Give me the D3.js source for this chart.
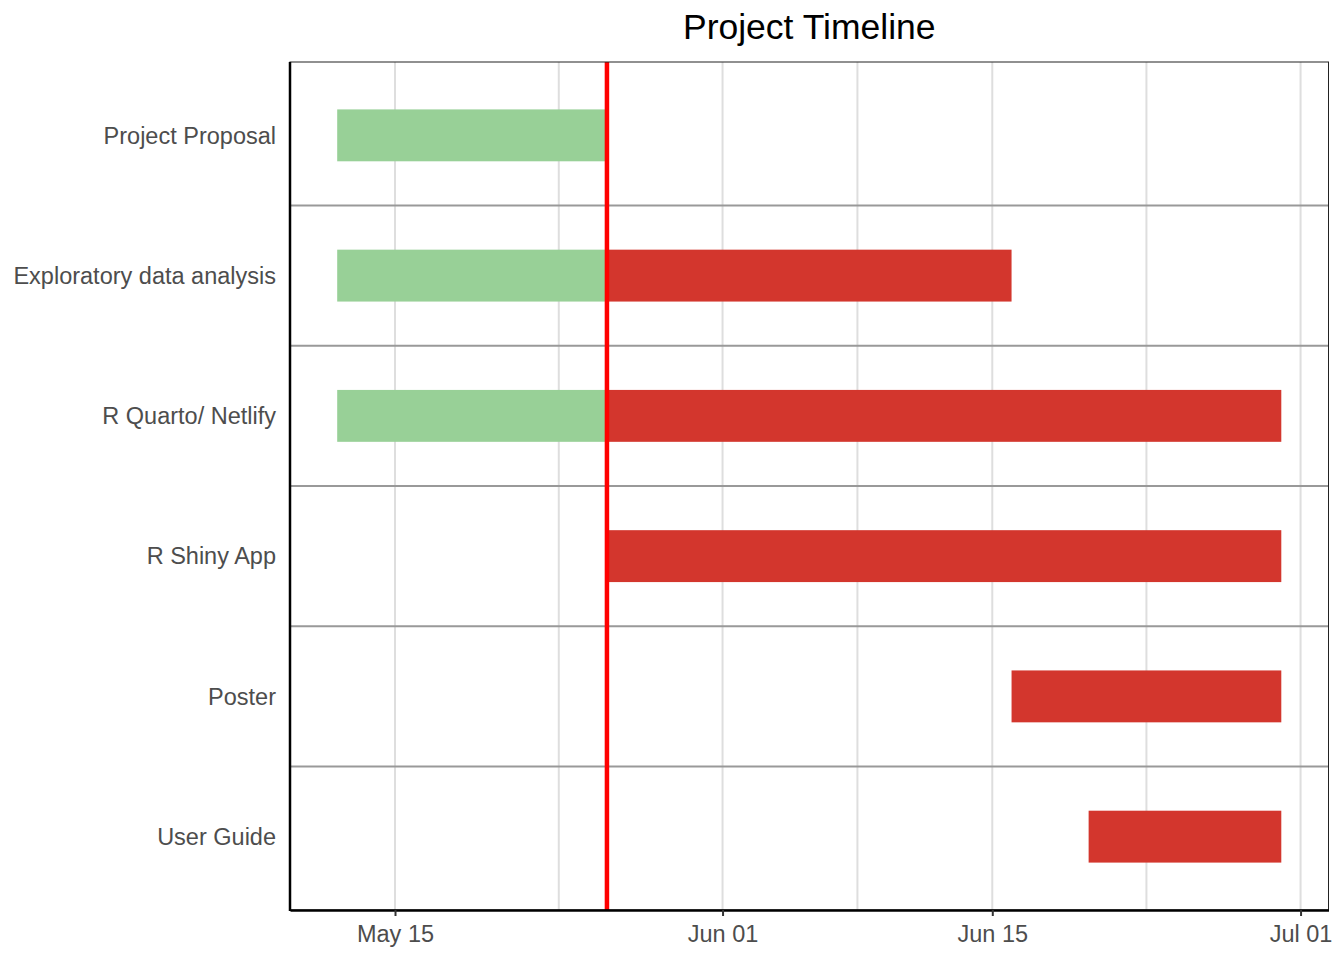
<!DOCTYPE html>
<html>
<head>
<meta charset="utf-8">
<script src="https://cdn.jsdelivr.net/npm/d3@7"></script>
<style>
  body { margin: 0; background: #fff; }
  text { font-family: "Liberation Sans", Arial, sans-serif; }
</style>
</head>
<body>
<div id="chart"></div>
<script>
// tasks, top to bottom
const tasks = ['Project Proposal', 'Exploratory data analysis', 'R Quarto/ Netlify', 'R Shiny App', 'Poster', 'User Guide'];
const taskStart = ['2023-05-12', '2023-05-12', '2023-05-12', '2023-05-26', '2023-06-16', '2023-06-20'];
const taskEnd = ['2023-05-26', '2023-06-16', '2023-06-30', '2023-06-30', '2023-06-30', '2023-06-30'];
const today = '2023-05-26';
const tickDates = ['2023-05-15', '2023-06-01', '2023-06-15', '2023-07-01'];
const minorDates = ['2023-05-23T12:00', '2023-06-08', '2023-06-23'];

const parse = d3.isoParse;
const width = 1344, height = 960;
const margin = { top: 62, right: 15.5, bottom: 50, left: 290 };

const svg = d3.select('#chart').append('svg')
  .attr('width', width)
  .attr('height', height);

// 5% expansion like ggplot
const dMin = d3.min(taskStart, parse), dMax = d3.max(taskEnd, parse);
const pad = (dMax - dMin) * 0.05;
const xScale = d3.scaleTime()
  .domain([new Date(+dMin - pad), new Date(+dMax + pad)])
  .range([margin.left, width - margin.right]);

const yScale = d3.scalePoint()
  .domain(tasks)
  .range([margin.top, height - margin.bottom])
  .padding(0.523);

const step = yScale.step();
const barH = step * 0.37;

// grid lines
svg.append('g').selectAll('line')
  .data(tickDates.concat(minorDates).map(parse))
  .join('line')
  .attr('x1', d => xScale(d)).attr('x2', d => xScale(d))
  .attr('y1', margin.top).attr('y2', height - margin.bottom)
  .attr('stroke', '#dedede').attr('stroke-width', 2);

// row separators
svg.append('g').selectAll('line')
  .data(tasks.slice(1))
  .join('line')
  .attr('x1', margin.left).attr('x2', width - margin.right)
  .attr('y1', d => yScale(d) - step / 2).attr('y2', d => yScale(d) - step / 2)
  .attr('stroke', '#999').attr('stroke-width', 2);

// build segments: done part (green) and remaining part (red)
const t = parse(today);
const segs = [];
tasks.forEach((name, i) => {
  const s = parse(taskStart[i]), e = parse(taskEnd[i]);
  if (s < t) segs.push({ name, s, e: e < t ? e : t, done: true });
  if (e > t) segs.push({ name, s: s > t ? s : t, e, done: false });
});

svg.append('g').selectAll('rect')
  .data(segs)
  .join('rect')
  .attr('x', d => xScale(d.s))
  .attr('width', d => xScale(d.e) - xScale(d.s))
  .attr('y', d => yScale(d.name) - barH / 2)
  .attr('height', barH)
  .attr('fill', d => d.done ? '#98d097' : '#d3362d');

// today line
svg.append('line')
  .attr('x1', xScale(t)).attr('x2', xScale(t))
  .attr('y1', margin.top).attr('y2', height - margin.bottom)
  .attr('stroke', '#ff0000').attr('stroke-width', 4.5);

// panel border
svg.append('rect')
  .attr('x', margin.left).attr('y', margin.top)
  .attr('width', width - margin.left - margin.right)
  .attr('height', height - margin.top - margin.bottom)
  .attr('fill', 'none').attr('stroke', '#222').attr('stroke-width', 1);

// x axis
const xAxis = svg.append('g')
  .attr('transform', `translate(0, ${height - margin.bottom})`)
  .call(d3.axisBottom(xScale)
    .tickValues(tickDates.map(parse))
    .tickFormat(d3.timeFormat('%b %d'))
    .tickSizeInner(6)
    .tickSizeOuter(0)
    .tickPadding(9));
xAxis.select('.domain').attr('stroke', '#000').attr('stroke-width', 2.5);
xAxis.selectAll('.tick line').attr('stroke', '#333').attr('stroke-width', 2);
xAxis.selectAll('.tick text')
  .attr('fill', '#4d4d4d')
  .style('font-size', '23.5px')
  .style('font-family', '"Liberation Sans", Arial, sans-serif');

// left axis line
svg.append('line')
  .attr('x1', margin.left).attr('x2', margin.left)
  .attr('y1', margin.top).attr('y2', height - margin.bottom + 1)
  .attr('stroke', '#000').attr('stroke-width', 2.5);

// y labels
svg.append('g').selectAll('text')
  .data(tasks)
  .join('text')
  .attr('x', margin.left - 14)
  .attr('y', d => yScale(d))
  .attr('dy', '0.35em')
  .attr('text-anchor', 'end')
  .attr('fill', '#4d4d4d')
  .style('font-size', '23.5px')
  .text(d => d);

// title
svg.append('text')
  .attr('x', (margin.left + width - margin.right) / 2)
  .attr('y', 39)
  .attr('text-anchor', 'middle')
  .attr('fill', '#000')
  .style('font-size', '35.5px')
  .text('Project Timeline');
</script>
</body>
</html>
